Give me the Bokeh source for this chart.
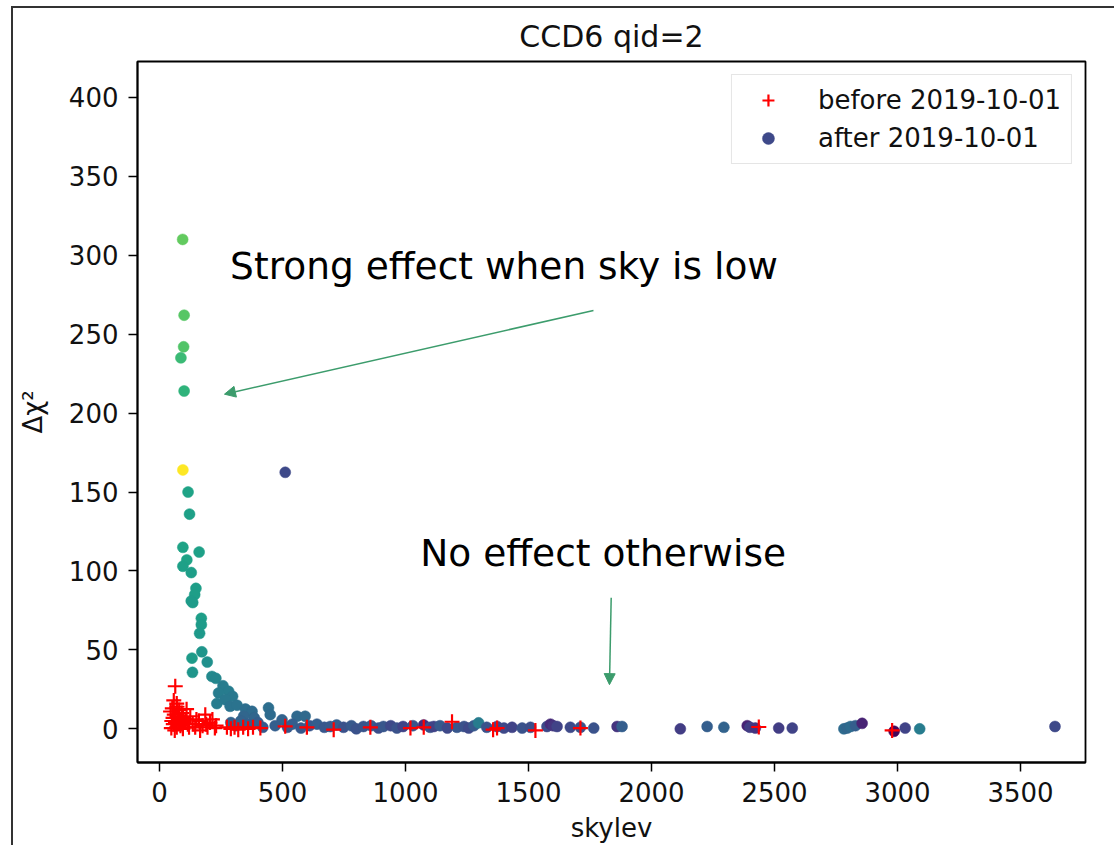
from bokeh.plotting import figure
from bokeh.models import (Range1d, FixedTicker, Label, Arrow, NormalHead, Legend,
                          LegendItem, ColumnDataSource)
from bokeh.transform import linear_cmap
from bokeh.palettes import Viridis256
from bokeh.layouts import column
from bokeh.embed import file_html
from bokeh.resources import INLINE

# ---------------- data ----------------
title_text = "CCD6 qid=2"
x_label = "skylev"
y_label = "Δχ²"
label_before = "before 2019-10-01"
label_after = "after 2019-10-01"

x_ticks = [0, 500, 1000, 1500, 2000, 2500, 3000, 3500]
y_ticks = [0, 50, 100, 150, 200, 250, 300, 350, 400]

# after 2019-10-01 : skylev, delta chi2, colour value (viridis 0..1)
after_skylev = [3640, 94, 100, 98, 87, 100, 95, 511, 116, 122, 95, 161, 111, 95, 129,
                148, 143, 129, 135, 170, 170, 163, 172, 132, 194, 134, 213, 229, 258,
                281, 297, 240, 233, 267, 287, 315, 349, 376, 443, 450, 342, 385, 498,
                559, 592,
                290, 310, 330, 360, 400, 420, 470, 520, 540, 575, 610, 640, 670, 694,
                720, 748, 780, 800, 829, 860, 890, 910, 940, 965, 990, 1030, 1074,
                1100, 1115, 1140, 1170, 1209, 1238, 1257, 1278, 1297, 1330, 1372,
                1400, 1433, 1474, 1508, 1575, 1589, 1600, 1616, 1670, 1711, 1765,
                1860, 1880, 2117, 2226, 2294, 2389, 2400, 2422, 2517, 2572, 2782,
                2795, 2809, 2829, 2856, 2986, 3031, 3090]
after_dchi2 = [1.5, 310, 262, 242, 235, 214, 164, 162.5, 150, 136, 115, 112, 107, 103, 99,
               89, 85, 81, 80, 70, 66, 60.5, 48.8, 44.8, 42.3, 35.8, 33.2, 32, 27.3,
               23.8, 20.6, 22.7, 16, 18.5, 14.3, 15, 12.6, 11.1, 13.3, 9, 8, 7, 5.7,
               8, 8,
               4, 2, 5, 3, 4, 1, 2, 1, 3, 0.5, 2, 3, 1, 1.5,
               2.5, 1, 2, 0, 1.5, 2, 0.5, 1.5, 2, 0.5, 1.5, 2, 2.5,
               1, 1.5, 2, 0.5, 1, 1.5, 0.5, 2, 3.8, 1, 1.5,
               0.5, 1, 0.5, 1, 1.5, 3, 2, 1.5, 1, 1, 0.5,
               1.5, 1.5, 0, 1.5, 1, 2, 1, 0.5, 0.5, 0.5, 0,
               0.5, 1.5, 2, 3.5, -1.5, 0.5, 0]
after_cval = [0.22, 0.76, 0.74, 0.73, 0.68, 0.65, 1.0, 0.22, 0.58, 0.57, 0.58, 0.57, 0.58, 0.57, 0.56,
              0.56, 0.56, 0.55, 0.55, 0.56, 0.55, 0.54, 0.52, 0.55, 0.5, 0.52, 0.47, 0.46, 0.42,
              0.42, 0.4, 0.42, 0.42, 0.4, 0.38, 0.38, 0.36, 0.35, 0.36, 0.35, 0.33, 0.33, 0.32,
              0.34, 0.34,
              0.32, 0.3, 0.32, 0.3, 0.3, 0.28, 0.3, 0.28, 0.3, 0.28, 0.27, 0.3, 0.27, 0.28,
              0.3, 0.25, 0.28, 0.25, 0.26, 0.28, 0.24, 0.27, 0.22, 0.25, 0.2, 0.26, 0.12,
              0.25, 0.2, 0.28, 0.22, 0.27, 0.25, 0.22, 0.28, 0.42, 0.25, 0.22,
              0.22, 0.2, 0.25, 0.24, 0.22, 0.12, 0.15, 0.2, 0.22, 0.25, 0.25,
              0.15, 0.3, 0.18, 0.3, 0.32, 0.1, 0.18, 0.15, 0.18, 0.2, 0.35,
              0.33, 0.35, 0.3, 0.1, 0.02, 0.2, 0.42]

# before 2019-10-01 : skylev, delta chi2
before_skylev = [64, 58, 52, 71, 45, 60, 75, 80, 90, 105, 110, 50, 56, 65, 70, 85, 95,
                 100, 115, 120, 62, 48, 78, 88, 96, 70, 55, 125, 135, 145, 160, 175,
                 186, 195, 205, 215, 225, 165, 150, 190, 230,
                 274, 290, 305, 320, 340, 360, 380, 410, 511, 599, 708, 857, 1020,
                 1074, 1189, 1356, 1372, 1528, 1711, 2436, 2978]
before_dchi2 = [27, 18, 13, 14, 11, 9, 8, 12, 10, 6, 12.5, 5, 3, 4, 1, 2, 0,
                4, 3, 1, -1, 0.5, 6, 5, 7, 16, 7, 8, 3, 1, 5, 2,
                9, 1, 4, 6, 0.5, -1, 6, 3, 2,
                1, 0, 1, -0.5, 1, 0, 1, 0.5, 1.6, 1, -0.5, 1, 0.5,
                1, 4.5, -0.5, 0.5, -1, 0.5, 1.2, -1]

annot_strong = "Strong effect when sky is low"
annot_none = "No effect otherwise"

FONT = "DejaVu Sans"
GREEN = "#3c9c6c"

# ---------------- figure ----------------
p = figure(width=1101, height=837, output_backend="svg", toolbar_location=None,
           x_range=Range1d(-89.5, 3764), y_range=Range1d(-21.3, 422.7),
           min_border_left=124, min_border_right=29, min_border_top=52,
           min_border_bottom=82, title=title_text)

p.background_fill_color = "white"
p.border_fill_color = "white"
p.outline_line_color = "black"
p.outline_line_width = 1.8
p.grid.visible = False

p.title.text_font = FONT
p.title.text_font_size = "30px"
p.title.text_font_style = "normal"
p.title.align = "center"
p.title.text_color = "#111111"
p.title.standoff = 16

for ax in (p.xaxis[0], p.yaxis[0]):
    ax.axis_line_color = "black"
    ax.axis_line_width = 1.8
    ax.major_tick_line_color = "black"
    ax.major_tick_line_width = 1.5
    ax.major_tick_out = 9
    ax.major_tick_in = 0
    ax.minor_tick_line_color = None
    ax.major_label_text_font = FONT
    ax.major_label_text_font_size = "26px"
    ax.major_label_text_color = "#111111"
    ax.axis_label_text_font = FONT
    ax.axis_label_text_font_size = "26px"
    ax.axis_label_text_font_style = "normal"
    ax.axis_label_text_color = "#111111"

p.xaxis.ticker = FixedTicker(ticks=x_ticks)
p.yaxis.ticker = FixedTicker(ticks=y_ticks)
p.xaxis.axis_label = x_label
p.yaxis.axis_label = y_label
p.xaxis.major_label_standoff = 10
p.yaxis.major_label_standoff = 10
p.xaxis.axis_label_standoff = 8
p.yaxis.axis_label_standoff = 18

src_after = ColumnDataSource(dict(x=after_skylev, y=after_dchi2, c=after_cval))
src_before = ColumnDataSource(dict(x=before_skylev, y=before_dchi2))

r_after = p.scatter("x", "y", source=src_after, size=11, marker="circle",
                    fill_color=linear_cmap("c", Viridis256, 0, 1),
                    line_color=linear_cmap("c", Viridis256, 0, 1), line_width=0.5)
r_before = p.scatter("x", "y", source=src_before, size=15, marker="cross",
                     line_color="red", line_width=2.2)

legend = Legend(items=[LegendItem(label=label_before, renderers=[r_before]),
                       LegendItem(label=label_after, renderers=[r_after], index=0)],
                location="top_right", margin=13, padding=10, spacing=8,
                glyph_width=52, glyph_height=30, label_height=30, label_standoff=24,
                label_text_font=FONT, label_text_font_size="26px",
                label_text_color="#111111",
                border_line_color="#cccccc", border_line_width=1,
                background_fill_alpha=0.85)
p.add_layout(legend)

# annotations
p.add_layout(Label(x=287, y=293, text=annot_strong, text_font=FONT,
                   text_font_size="37.5px", text_color="black",
                   text_baseline="alphabetic"))
p.add_layout(Label(x=1060, y=111.5, text=annot_none, text_font=FONT,
                   text_font_size="37.5px", text_color="black",
                   text_baseline="alphabetic"))

p.add_layout(Arrow(x_start=1764, y_start=265, x_end=264, y_end=212,
                   line_color=GREEN, line_width=1.5,
                   end=NormalHead(size=11, fill_color=GREEN, line_color=GREEN)))
p.add_layout(Arrow(x_start=1836, y_start=83, x_end=1829, y_end=28,
                   line_color=GREEN, line_width=1.5,
                   end=NormalHead(size=11, fill_color=GREEN, line_color=GREEN)))

layout = column(p, margin=(6, 0, 0, 11),
                styles={"border-left": "2px solid #333333",
                        "border-top": "2px solid #333333"})

open("out.html", "w").write(file_html(layout, INLINE))
